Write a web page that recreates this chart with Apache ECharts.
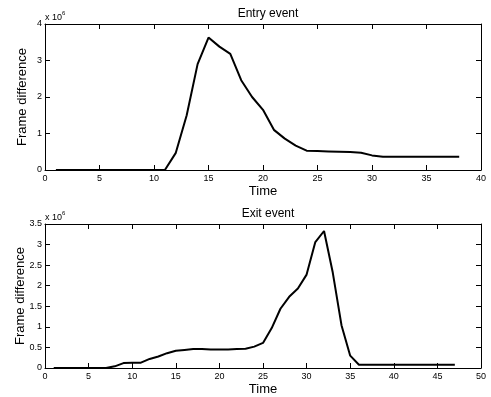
<!DOCTYPE html>
<html>
<head>
<meta charset="utf-8">
<script src="https://cdn.jsdelivr.net/npm/echarts@6/dist/echarts.min.js"></script>
<style>
html,body{margin:0;padding:0;background:#fff;}
#c{width:491px;height:397px;}
</style>
</head>
<body>
<div id="c"></div>
<script>
// Entry event (values in units of 10^6)
var entryTime = [1,2,3,4,5,6,7,8,9,10,11,12,13,14,15,16,17,18,19,20,21,22,23,24,25,26,27,28,29,30,31,32,33,34,35,36,37,38];
var entryValues = [0,0,0,0,0,0,0,0,0,0,0,0.47,1.5,2.9,3.63,3.38,3.18,2.46,2.0,1.65,1.1,0.86,0.67,0.53,0.52,0.51,0.50,0.49,0.47,0.40,0.36,0.36,0.36,0.36,0.36,0.36,0.36,0.36];
// Exit event (values in units of 10^6)
var exitTime = [1,2,3,4,5,6,7,8,9,10,11,12,13,14,15,16,17,18,19,20,21,22,23,24,25,26,27,28,29,30,31,32,33,34,35,36,37,38,39,40,41,42,43,44,45,46,47];
var exitValues = [0,0,0,0,0,0,0,0.04,0.12,0.13,0.13,0.22,0.28,0.36,0.42,0.44,0.46,0.46,0.45,0.45,0.45,0.46,0.47,0.52,0.61,0.97,1.44,1.73,1.93,2.27,3.06,3.33,2.32,1.04,0.30,0.08,0.08,0.08,0.08,0.08,0.08,0.08,0.08,0.08,0.08,0.08,0.08];

var titles = ['Entry event','Exit event'];
var xMax = [40,50], xStep = [5,5];
var yMax = [4,3.5], yStep = [1,0.5];

function pairs(xs, ys){ return xs.map(function(x,i){return [x, ys[i]];}); }

var FONT = 'Liberation Sans, Arial, sans-serif';
var grids = [
  {left:45, top:24, width:436, height:146},
  {left:45, top:224, width:436, height:146}
];
var yNameGap = [16, 18];
var xAxes = [], yAxes = [];
for (var g=0; g<2; g++){
  xAxes.push({type:'value', gridIndex:g, position:'bottom', min:0, max:xMax[g], interval:xStep[g],
    name:'Time', nameLocation:'middle', nameGap:15, nameMoveOverlap:false,
    nameTextStyle:{color:'#000', fontSize:13, fontFamily:FONT},
    axisLine:{show:true, onZero:false, lineStyle:{color:'#000', width:1}},
    axisTick:{show:true, inside:true, length:5, lineStyle:{color:'#000'}},
    axisLabel:{color:'#000', fontSize:9, fontFamily:FONT, margin:4},
    splitLine:{show:false}});
  xAxes.push({type:'value', gridIndex:g, position:'top', min:0, max:xMax[g], interval:xStep[g],
    axisLine:{show:true, onZero:false, lineStyle:{color:'#000', width:1}},
    axisTick:{show:true, inside:true, length:5, lineStyle:{color:'#000'}},
    axisLabel:{show:false}, splitLine:{show:false}});
  yAxes.push({type:'value', gridIndex:g, position:'left', min:0, max:yMax[g], interval:yStep[g],
    name:'Frame difference', nameLocation:'middle', nameGap:yNameGap[g], nameMoveOverlap:false,
    nameTextStyle:{color:'#000', fontSize:13, fontFamily:FONT},
    axisLine:{show:true, onZero:false, lineStyle:{color:'#000', width:1}},
    axisTick:{show:true, inside:true, length:5, lineStyle:{color:'#000'}},
    axisLabel:{color:'#000', fontSize:9, fontFamily:FONT, margin:3},
    splitLine:{show:false}});
  yAxes.push({type:'value', gridIndex:g, position:'right', min:0, max:yMax[g], interval:yStep[g],
    axisLine:{show:true, onZero:false, lineStyle:{color:'#000', width:1}},
    axisTick:{show:true, inside:true, length:5, lineStyle:{color:'#000'}},
    axisLabel:{show:false}, splitLine:{show:false}});
}

var sup = {a:{fontSize:9, fontFamily:FONT, fill:'#000', verticalAlign:'bottom'}, b:{fontSize:6, fontFamily:FONT, fill:'#000', verticalAlign:'top', padding:[0,0,6,0]}};
var option = {
  animation:false,
  backgroundColor:'#fff',
  title:[
    {text:titles[0], left:263, top:3, textAlign:'center', textStyle:{fontSize:12, fontWeight:'normal', color:'#000', fontFamily:FONT}},
    {text:titles[1], left:263, top:203, textAlign:'center', textStyle:{fontSize:12, fontWeight:'normal', color:'#000', fontFamily:FONT}}
  ],
  graphic:[
    {type:'text', left:45, top:10, style:{text:'{a|x 10}{b|6}', rich:sup}},
    {type:'text', left:45, top:210, style:{text:'{a|x 10}{b|6}', rich:sup}}
  ],
  grid:grids,
  xAxis:xAxes,
  yAxis:yAxes,
  series:[
    {type:'line', xAxisIndex:0, yAxisIndex:0, data:pairs(entryTime, entryValues), symbol:'none', lineStyle:{color:'#000', width:2}},
    {type:'line', xAxisIndex:2, yAxisIndex:2, data:pairs(exitTime, exitValues), symbol:'none', lineStyle:{color:'#000', width:2}}
  ]
};
var chart = echarts.init(document.getElementById('c'), null, {renderer:'canvas'});
chart.setOption(option);
</script>
</body>
</html>
